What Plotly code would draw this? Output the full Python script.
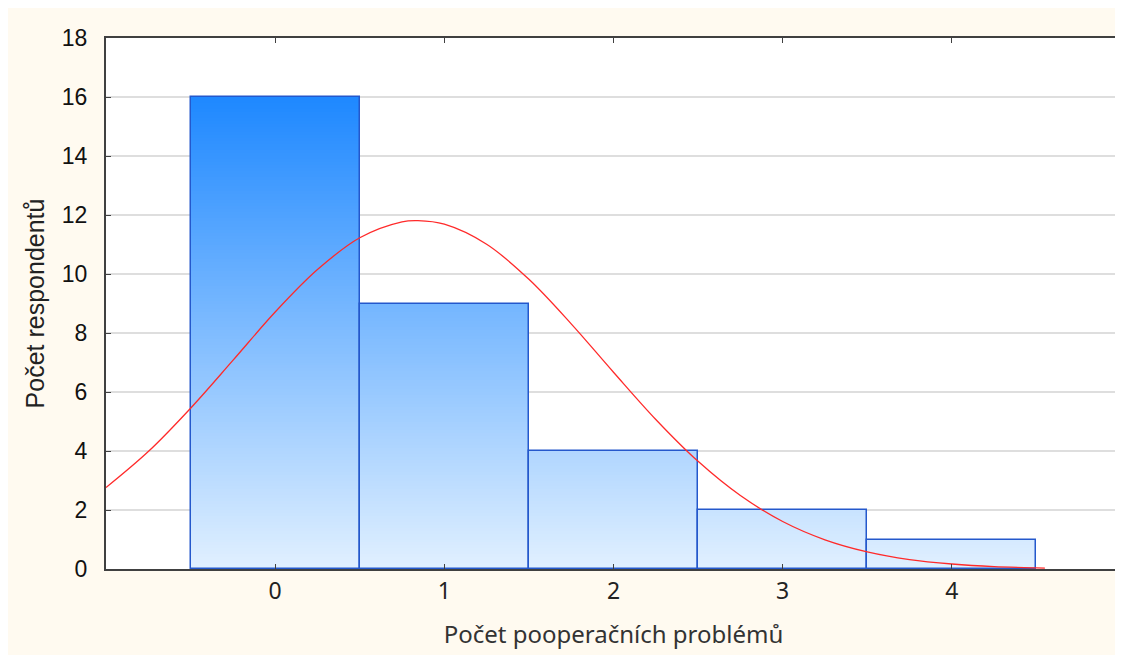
import plotly.graph_objects as go

# ---- data ----
categories = [0, 1, 2, 3, 4]
counts = [16, 9, 4, 2, 1]
x_tick_labels = ["0", "1", "2", "3", "4"]
y_tick_values = [0, 2, 4, 6, 8, 10, 12, 14, 16, 18]

# fitted normal curve
curve_x = [-1.0, -0.75, -0.5, -0.25, 0.0, 0.25, 0.5, 0.75, 0.844, 1.0, 1.25, 1.5, 1.75,
           2.0, 2.25, 2.5, 2.75, 3.0, 3.25, 3.5, 3.75, 4.0, 4.25, 4.5, 4.55]
curve_y = [2.76, 3.98, 5.45, 7.07, 8.71, 10.15, 11.23, 11.77, 11.81, 11.69, 11.01, 9.82, 8.31,
           6.67, 5.07, 3.65, 2.49, 1.61, 0.99, 0.58, 0.32, 0.17, 0.08, 0.04, 0.03]

# ---- style ----
BOTTOM_RGB = (225, 240, 255)
TOP_RGB = (30, 136, 255)
TOP_LEVEL = 16.0
STEP = 0.1
CREAM = "#fffaf0"

def grad_color(level):
    t = max(0.0, min(1.0, level / TOP_LEVEL))
    r = round(BOTTOM_RGB[0] + (TOP_RGB[0] - BOTTOM_RGB[0]) * t)
    g = round(BOTTOM_RGB[1] + (TOP_RGB[1] - BOTTOM_RGB[1]) * t)
    b = round(BOTTOM_RGB[2] + (TOP_RGB[2] - BOTTOM_RGB[2]) * t)
    return f"rgb({r},{g},{b})"

fig = go.Figure()

# gradient-filled bars built from thin slices of each bar
n_levels = int(round(max(counts) / STEP))
for k in range(n_levels):
    base = k * STEP
    heights = [max(0.0, min(STEP * 1.6, v - base)) for v in counts]
    fig.add_trace(go.Bar(
        x=categories, y=heights, base=[base] * len(counts), width=1.0,
        marker=dict(color=grad_color(base + STEP / 2), line=dict(width=0)),
        hoverinfo="skip", showlegend=False,
    ))

# bar outlines
fig.add_trace(go.Bar(
    x=categories, y=counts, width=1.0,
    marker=dict(color="rgba(0,0,0,0)", line=dict(color="#2458cc", width=1.5)),
    showlegend=False,
))

# normal curve
fig.add_trace(go.Scatter(
    x=curve_x, y=curve_y, mode="lines", line=dict(color="#ff2a2a", width=1.3, shape="spline"),
    showlegend=False, hoverinfo="skip",
))

fig.update_layout(
    width=1121, height=647,
    barmode="overlay", bargap=0,
    paper_bgcolor=CREAM, plot_bgcolor="white",
    margin=dict(l=98, r=6, t=30, b=86),
    showlegend=False,
)

fig.update_xaxes(
    range=[-1, 5], tickvals=categories, ticktext=x_tick_labels,
    showgrid=False, zeroline=False,
    showline=True, linecolor="#404040", linewidth=2, mirror="ticks",
    ticks="inside", ticklen=5, tickcolor="#404040",
    tickfont=dict(family="Noto Sans", size=23, color="#222"),
    ticklabelstandoff=0,
    title=dict(text="Počet pooperačních problémů", font=dict(family="Noto Sans", size=24, color="#333"),
               standoff=22),
)
fig.update_yaxes(
    range=[0, 18], tickvals=y_tick_values,
    showgrid=True, gridcolor="#dedede", gridwidth=1.5, zeroline=False,
    showline=True, linecolor="#404040", linewidth=2, mirror="ticks",
    ticks="inside", ticklen=5, tickcolor="#404040",
    tickfont=dict(family="Liberation Sans", size=23, color="#111"),
    ticklabelstandoff=12,
    title=dict(text="Počet respondentů", font=dict(family="Liberation Sans", size=25, color="#222"),
               standoff=10),
)

fig.write_html("out.html")
